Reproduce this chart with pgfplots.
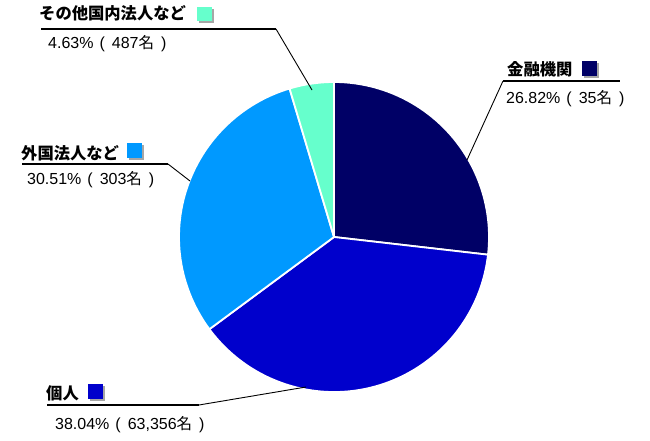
\documentclass[border=0pt]{standalone}
\usepackage{pgfplots}
\usepackage{pgfplotstable}
\pgfplotsset{compat=1.18}
\usepackage{fontspec}
\setmainfont{Liberation Sans}
\newfontfamily\cjk{Noto Sans CJK JP}

\definecolor{slice0}{HTML}{000066}
\definecolor{slice1}{HTML}{0000CC}
\definecolor{slice2}{HTML}{0099FF}
\definecolor{slice3}{HTML}{66FFCC}

% clockwise from 12 o'clock
\pgfplotstableread{
idx pct count
0 26.82 35
1 38.04 63356
2 30.51 303
3 4.63 487
}\piedata

\newcommand\ttl{\cjk\bfseries\fontsize{16.3}{19}\selectfont}
\newcommand\val{\fontsize{16}{18}\selectfont}
\newcommand\mei{{\cjk\fontsize{15.5}{18}\selectfont 名}}
\newcommand\pv[2]{#1\%\hspace{6pt}(\hspace{7pt}#2\mei\hspace{7pt})}

\begin{document}
\begin{tikzpicture}
\begin{axis}[
  scale only axis,
  width=650pt, height=440pt,
  xmin=0, xmax=650, ymin=0, ymax=440,
  hide axis, clip=false,
]
\path (axis cs:0,0) rectangle (axis cs:650,440);

\def\angA{90}
\pgfplotsforeachungrouped \i in {0,...,3}{%
  \pgfplotstablegetelem{\i}{pct}\of\piedata
  \pgfmathsetmacro\angB{\angA-3.6*\pgfplotsretval}%
  \edef\cmd{\noexpand\fill[slice\i,draw=white,line width=1.8pt,line join=round]
    (axis cs:334,203) -- ++(\angA:155pt) arc[start angle=\angA,end angle=\angB,radius=155pt] -- cycle;}%
  \cmd
  \global\let\angA\angB
}

% その他国内法人など
\node[anchor=base west,inner sep=0pt,font=\ttl] at (axis cs:39,420) {その他国内法人など};
\fill[black!35] (axis cs:199,417) rectangle (axis cs:214,431);
\fill[slice3] (axis cs:197,419) rectangle (axis cs:212,433);
\draw[line width=1.3pt] (axis cs:41,411) -- (axis cs:276,411);
\draw[line width=0.9pt] (axis cs:276,411) -- (axis cs:312,350);
\node[anchor=base west,inner sep=0pt,font=\val] at (axis cs:48,391) {\pv{4.63}{487}};

% 外国法人など
\node[anchor=base west,inner sep=0pt,font=\ttl] at (axis cs:21,281) {外国法人など};
\fill[black!35] (axis cs:129,280) rectangle (axis cs:144,295);
\fill[slice2] (axis cs:127,282) rectangle (axis cs:142,297);
\draw[line width=1.3pt] (axis cs:22,276) -- (axis cs:168,276);
\draw[line width=0.9pt] (axis cs:168,276) -- (axis cs:190,259);
\node[anchor=base west,inner sep=0pt,font=\val] at (axis cs:27,256) {\pv{30.51}{303}};

% 金融機関
\node[anchor=base west,inner sep=0pt,font=\ttl] at (axis cs:507,364) {金融機関};
\fill[black!35] (axis cs:584,362) rectangle (axis cs:599,377);
\fill[slice0] (axis cs:582,364) rectangle (axis cs:597,379);
\draw[line width=1.3pt] (axis cs:503,359) -- (axis cs:620,359);
\draw[line width=0.9pt] (axis cs:503,359) -- (axis cs:467,280);
\node[anchor=base west,inner sep=0pt,font=\val] at (axis cs:506,336) {\pv{26.82}{35}};

% 個人
\node[anchor=base west,inner sep=0pt,font=\ttl] at (axis cs:46,41) {個人};
\fill[black!35] (axis cs:90,39) rectangle (axis cs:105,54);
\fill[slice1] (axis cs:88,41) rectangle (axis cs:103,56);
\draw[line width=1.3pt] (axis cs:47,35) -- (axis cs:199,35);
\draw[line width=0.9pt] (axis cs:199,35) -- (axis cs:306,53);
\node[anchor=base west,inner sep=0pt,font=\val] at (axis cs:55,11) {\pv{38.04}{63,356}};
\end{axis}
\end{tikzpicture}
\end{document}
